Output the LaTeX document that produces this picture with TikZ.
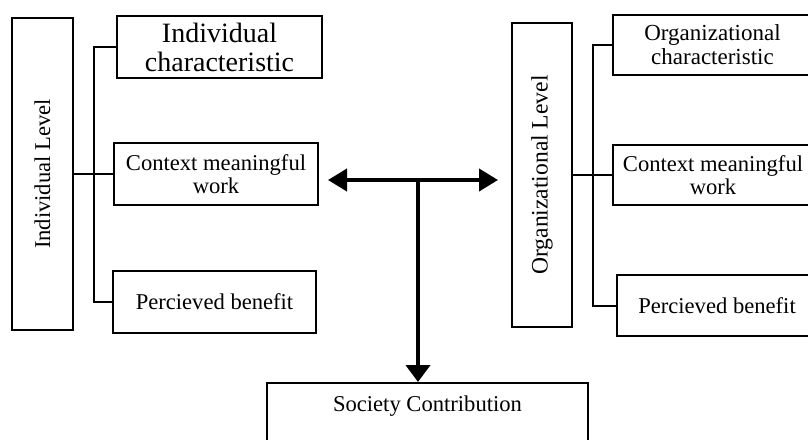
\documentclass[tikz,border=0pt]{standalone}
\usepackage{fontspec}
\setmainfont{Liberation Serif}
\usetikzlibrary{arrows.meta}

\begin{document}
\begin{tikzpicture}[x=0.5pt,y=-0.5pt,
  box/.style={draw,line width=1pt,inner sep=0pt,align=center,font=\fontsize{11.3}{11.5}\selectfont},
  lvlbox/.style={box,rotate=90,minimum height=30.5pt},
  link/.style={line width=1pt},
  bigarrow/.style={line width=2pt,{Triangle[length=9.5pt,width=11pt]}-{Triangle[length=9.5pt,width=11pt]}}]
  \useasboundingbox (0,0) rectangle (808,439);
  \clip (0,0) rectangle (808,439);
  %% individual side
  \node[lvlbox,minimum width=156pt] (indlvl) at (42.5,174) {Individual Level};
  \node[box,minimum width=102.5pt,minimum height=31pt,font=\fontsize{14}{14.5}\selectfont] (indc) at (219.5,47) {Individual\\characteristic};
  \node[box,minimum width=102pt,minimum height=31pt] (indw) at (216,174) {Context meaningful\\work};
  \node[box,minimum width=101.5pt,minimum height=31pt] (indb) at (214.5,302) {Percieved benefit};
  %% organizational side
  \node[lvlbox,minimum width=152pt,minimum height=30pt,font=\fontsize{11.8}{12}\selectfont] (orglvl) at (542,175) {Organizational Level};
  \node[box,minimum width=99.5pt,minimum height=30pt,font=\fontsize{11.5}{12}\selectfont] (orgc) at (712.5,45) {Organizational\\characteristic};
  \node[box,minimum width=100pt,minimum height=30pt] (orgw) at (713,175) {Context meaningful\\work};
  \node[box,minimum width=100pt,minimum height=30.5pt] (orgb) at (717,305.5) {Percieved benefit};
  %% society
  \node[box,anchor=north,minimum width=160.5pt,text height=14pt,text depth=30pt] (soc) at (427.5,382) {Society Contribution};
  \coordinate (indbus) at (94,174);
  \coordinate (orgbus) at (593,175);
  \draw[link] (indlvl.south) -- (indw.west); % rotated node: south is its right side
  \draw[link] (indc.west) -| (indbus) |- (indb.west);
  \draw[link] (orglvl.south) -- (orgw.west);
  \draw[link] (orgc.west) -| (orgbus) |- (orgb.west);
  %% double arrow and link down
  \coordinate (arrl) at (328,180);
  \coordinate (arrr) at (498,180);
  \coordinate (arrj) at (418,180);
  \draw[bigarrow] (arrl) -- (arrr);
  \draw[line width=2pt,-{Triangle[length=8.5pt,width=12pt]}] (arrj) -- (arrj |- soc.north);
\end{tikzpicture}
\end{document}
